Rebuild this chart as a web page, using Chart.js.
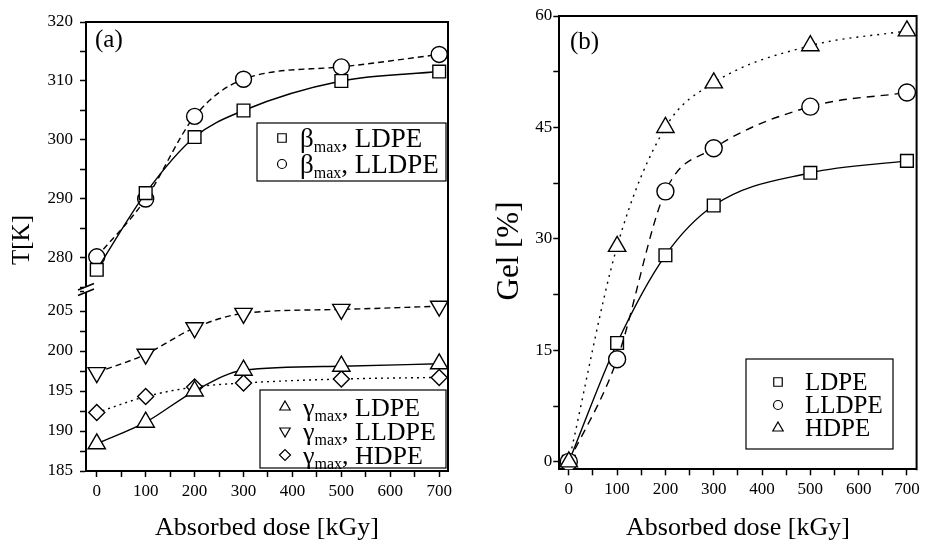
<!DOCTYPE html>
<html>
<head>
<meta charset="utf-8">
<script src="https://cdn.jsdelivr.net/npm/chart.js@4.4.1/dist/chart.umd.min.js"></script>
<style>
  html, body { margin: 0; padding: 0; background: #fff; }
  #wrap { position: relative; width: 928px; height: 541px; }
  canvas { position: absolute; top: 0; }
  #chartA { left: 0; }
  #chartB { left: 470px; }
</style>
</head>
<body>
<div id="wrap">
  <canvas id="chartA" width="470" height="541"></canvas>
  <canvas id="chartB" width="458" height="541"></canvas>
</div>
<script>
// absorbed dose [kGy]
const doses = [0, 100, 200, 300, 500, 700];

// panel (a): relaxation temperatures [K]
const betaLDPE = [278.0, 291.0, 300.5, 305.0, 310.0, 311.6];
const betaLLDPE = [280.2, 290.0, 304.0, 310.3, 312.4, 314.5];
const gammaLDPE = [188.4, 191.1, 195.0, 197.6, 198.1, 198.4];
const gammaLLDPE = [197.3, 199.6, 202.9, 204.7, 205.2, 205.6];
const gammaHDPE = [192.3, 194.3, 195.5, 196.0, 196.5, 196.7];

// panel (b): gel content [%]
const gelLDPE = [0, 16.0, 27.8, 34.5, 38.9, 40.5];
const gelLLDPE = [0, 13.8, 36.4, 42.2, 47.8, 49.7];
const gelHDPE = [0, 29.0, 45.0, 51.0, 56.0, 58.0];

const xTickLabels = ['0', '100', '200', '300', '400', '500', '600', '700'];
const topTickLabels = ['280', '290', '300', '310', '320'];
const botTickLabels = ['185', '190', '195', '200', '205'];
const gelTickLabels = ['0', '15', '30', '45', '60'];

const FONT = '"Liberation Serif", "Times New Roman", serif';

function pts(values) {
    return values.map((v, i) => ({ x: doses[i], y: v }));
}

function series(label, values, axis, style, dash, radius, rotation, order) {
    return {
        label: label,
        data: pts(values),
        yAxisID: axis,
        borderColor: '#000',
        borderWidth: 1.4,
        borderDash: dash,
        pointStyle: style,
        pointRotation: rotation || 0,
        pointRadius: radius,
        pointBorderWidth: 1.4,
        pointBackgroundColor: '#fff',
        pointBorderColor: '#000',
        cubicInterpolationMode: 'monotone',
        fill: false,
        order: order || 0
    };
}

function labelFrom(list) {
    return function(value) {
        const s = String(value);
        return list.includes(s) ? s : '';
    };
}

function axisBase(labels, padding) {
    return {
        type: 'linear',
        ticks: {
            font: { family: FONT, size: 17 },
            color: '#000',
            padding: padding,
            autoSkip: false,
            maxRotation: 0,
            includeBounds: false,
            callback: labelFrom(labels)
        },
        grid: { drawOnChartArea: false, color: '#000', tickLength: 6, tickWidth: 1.5 },
        border: { color: '#000', width: 2 }
    };
}

function xAxis(min, max, height) {
    const ax = axisBase(xTickLabels, 4);
    ax.position = 'bottom';
    ax.min = min;
    ax.max = max;
    ax.ticks.stepSize = 50;
    ax.title = {
        display: true,
        text: 'Absorbed dose [kGy]',
        color: '#000',
        font: { family: FONT, size: 26, lineHeight: 1 },
        padding: { top: 0, bottom: 0 }
    };
    ax.afterFit = (s) => { s.height = height; s.paddingLeft = 0; s.paddingRight = 0; };
    return ax;
}

function yAxis(labels, min, max, step, width, padding, extra) {
    const ax = axisBase(labels, padding);
    ax.position = 'left';
    ax.min = min;
    ax.max = max;
    ax.ticks.stepSize = step;
    ax.afterFit = (s) => { s.width = width; s.paddingTop = 0; s.paddingBottom = 0; };
    return Object.assign(ax, extra || {});
}

// frame, panel letter, y title and axis break
const panelDecor = {
    id: 'panelDecor',
    afterDraw(chart, args, opts) {
        const { ctx, chartArea: a } = chart;
        ctx.save();
        ctx.strokeStyle = '#000';
        ctx.lineWidth = 2;
        ctx.beginPath();
        ctx.moveTo(a.left - 1, a.top);
        ctx.lineTo(a.right, a.top);
        ctx.lineTo(a.right, a.bottom + 1);
        ctx.stroke();

        ctx.fillStyle = '#000';
        ctx.font = '25px ' + FONT;
        ctx.textBaseline = 'middle';
        ctx.textAlign = 'left';
        ctx.fillText(opts.letter, opts.letterX, opts.letterY);

        ctx.save();
        ctx.font = opts.titleSize + 'px ' + FONT;
        ctx.translate(opts.titleX, opts.titleY);
        ctx.rotate(-Math.PI / 2);
        ctx.textAlign = 'center';
        ctx.fillText(opts.yTitle, 0, 0);
        ctx.restore();

        if (opts.breakAxis) {
            const b = chart.scales[opts.breakAxis].bottom;
            const x = a.left;
            ctx.fillStyle = '#fff';
            ctx.fillRect(x - 2, b - 3.5, 4, 6);
            ctx.lineWidth = 1.5;
            ctx.beginPath();
            ctx.moveTo(x - 8, b + 0.5); ctx.lineTo(x + 8, b - 6);
            ctx.moveTo(x - 8, b + 6); ctx.lineTo(x + 8, b - 0.5);
            ctx.stroke();
        }
        ctx.restore();
    }
};

function drawMarker(ctx, ds, x, y, r) {
    const opts = { pointStyle: ds.pointStyle, rotation: ds.pointRotation || 0, radius: r, borderWidth: 1.2 };
    ctx.save();
    ctx.strokeStyle = '#000';
    ctx.fillStyle = '#fff';
    ctx.lineWidth = 1.2;
    Chart.helpers.drawPoint(ctx, opts, x, y);
    ctx.restore();
}

// legend boxes drawn inside the plot area
const boxLegend = {
    id: 'boxLegend',
    afterDraw(chart, args, opts) {
        const ctx = chart.ctx;
        ctx.save();
        for (const box of opts.boxes) {
            ctx.strokeStyle = '#000';
            ctx.lineWidth = 1.2;
            ctx.fillStyle = '#fff';
            ctx.fillRect(box.x, box.y, box.w, box.h);
            ctx.strokeRect(box.x, box.y, box.w, box.h);
            box.rows.forEach((row) => {
                const ds = chart.data.datasets[row.index];
                const r = ds.pointStyle === 'rect' ? 6 : ds.pointStyle === 'circle' ? 4.5 : ds.pointStyle === 'triangle' ? 6 : 5.5;
                drawMarker(ctx, ds, box.markerX, row.y, r);
                const base = row.y + box.size * 0.33;
                ctx.fillStyle = '#000';
                ctx.textAlign = 'left';
                ctx.textBaseline = 'alphabetic';
                const m = /^(\S)max, (.+)$/.exec(ds.label);
                let tx = box.textX;
                ctx.font = box.size + 'px ' + FONT;
                if (m) {
                    ctx.fillText(m[1], tx, base);
                    tx += ctx.measureText(m[1]).width;
                    ctx.font = '16px ' + FONT;
                    ctx.fillText('max', tx, base + 5);
                    tx += ctx.measureText('max').width;
                    ctx.font = box.size + 'px ' + FONT;
                    ctx.fillText(', ' + m[2], tx, base);
                } else {
                    ctx.fillText(ds.label, tx, base);
                }
            });
        }
        ctx.restore();
    }
};

Chart.register(panelDecor, boxLegend);

new Chart(document.getElementById('chartA'), {
    type: 'line',
    data: {
        datasets: [
            series('βmax, LDPE', betaLDPE, 'yTop', 'rect', [], 9),
            series('βmax, LLDPE', betaLLDPE, 'yTop', 'circle', [6, 4], 8),
            series('γmax, LDPE', gammaLDPE, 'yBot', 'triangle', [], 10),
            series('γmax, LLDPE', gammaLLDPE, 'yBot', 'triangle', [6, 4], 10, 180),
            series('γmax, HDPE', gammaHDPE, 'yBot', 'rectRot', [2, 4], 8)
        ]
    },
    options: {
        responsive: false,
        animation: false,
        layout: { padding: { top: 22, right: 22, left: 0, bottom: 0 } },
        scales: {
            x: xAxis(-22, 718, 70),
            yBot: yAxis(botTickLabels, 185, 207.69, 2.5, 86, 7, { stack: 'a', stackWeight: 181.5 }),
            yTop: yAxis(topTickLabels, 274.66, 320, 5, 86, 7, { stack: 'a', stackWeight: 267.5 })
        },
        plugins: {
            legend: { display: false },
            tooltip: { enabled: false },
            panelDecor: { letter: '(a)', letterX: 95, letterY: 40, yTitle: 'T[K]', titleSize: 25, titleX: 22, titleY: 240, breakAxis: 'yTop' },
            boxLegend: {
                boxes: [
                    { x: 257, y: 123, w: 189, h: 58, markerX: 282, textX: 300, size: 27,
                      rows: [{ index: 0, y: 138 }, { index: 1, y: 164 }] },
                    { x: 260, y: 390, w: 186, h: 78, markerX: 285, textX: 303, size: 26,
                      rows: [{ index: 2, y: 407 }, { index: 3, y: 431 }, { index: 4, y: 455 }] }
                ]
            }
        }
    }
});

new Chart(document.getElementById('chartB'), {
    type: 'line',
    data: {
        datasets: [
            series('LDPE', gelLDPE, 'y', 'rect', [], 9, 0, 2),
            series('LLDPE', gelLLDPE, 'y', 'circle', [8, 6], 8.5, 0, 1),
            series('HDPE', gelHDPE, 'y', 'triangle', [2, 5], 10, 0, 0)
        ]
    },
    options: {
        responsive: false,
        animation: false,
        layout: { padding: { top: 16, right: 4.7, left: 0, bottom: 0 } },
        scales: {
            x: xAxis(-19.7, 720, 71.7),
            y: yAxis(gelTickLabels, -1, 60, 7.5, 89.3, 1)
        },
        plugins: {
            legend: { display: false },
            tooltip: { enabled: false },
            panelDecor: { letter: '(b)', letterX: 100, letterY: 42, yTitle: 'Gel [%]', titleSize: 31, titleX: 40, titleY: 251 },
            boxLegend: {
                boxes: [
                    { x: 276, y: 359, w: 147, h: 90, markerX: 308, textX: 335, size: 25,
                      rows: [{ index: 0, y: 382 }, { index: 1, y: 405 }, { index: 2, y: 428 }] }
                ]
            }
        }
    }
});
</script>
</body>
</html>
